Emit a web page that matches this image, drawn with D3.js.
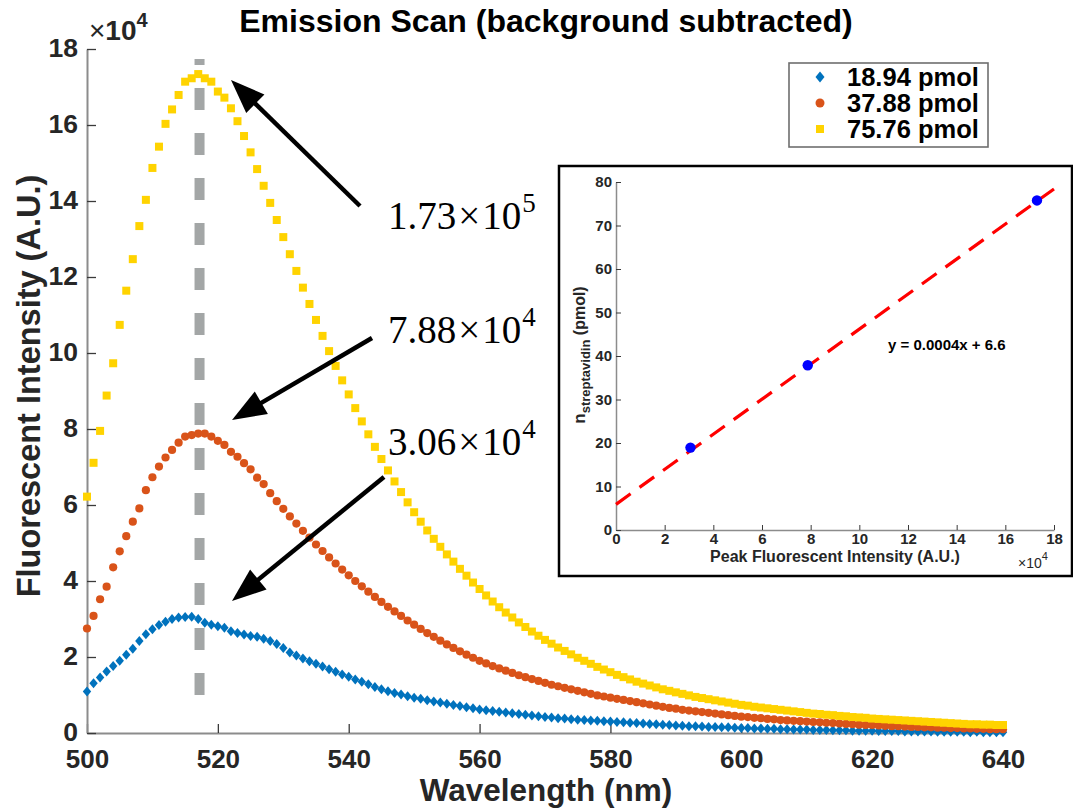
<!DOCTYPE html>
<html>
<head>
<meta charset="utf-8">
<script src="https://cdn.jsdelivr.net/npm/d3@7"></script>
<style>
  body { margin: 0; background: #fff; }
  svg { display: block; }
</style>
</head>
<body>
<div id="chart"></div>
<script>
// wavelength grid (nm), one reading per nm
var wavelengths = [500,501,502,503,504,505,506,507,508,509,510,511,512,513,514,515,516,517,518,519,
  520,521,522,523,524,525,526,527,528,529,530,531,532,533,534,535,536,537,538,539,
  540,541,542,543,544,545,546,547,548,549,550,551,552,553,554,555,556,557,558,559,
  560,561,562,563,564,565,566,567,568,569,570,571,572,573,574,575,576,577,578,579,
  580,581,582,583,584,585,586,587,588,589,590,591,592,593,594,595,596,597,598,599,
  600,601,602,603,604,605,606,607,608,609,610,611,612,613,614,615,616,617,618,619,
  620,621,622,623,624,625,626,627,628,629,630,631,632,633,634,635,636,637,638,639,640];

// fluorescent intensity, units of 1e4 A.U.
var pmol1894 = [1.09,1.31,1.46,1.62,1.76,1.90,2.06,2.22,2.42,2.60,2.73,2.84,2.93,3.00,3.04,3.05,3.06,3.00,2.90,2.85,
  2.81,2.77,2.68,2.63,2.59,2.55,2.53,2.48,2.42,2.34,2.24,2.12,2.04,1.96,1.89,1.82,1.75,1.68,1.61,1.54,
  1.48,1.41,1.35,1.28,1.21,1.15,1.10,1.05,1.01,0.97,0.93,0.90,0.86,0.83,0.80,0.77,0.74,0.71,0.68,0.65,
  0.62,0.60,0.58,0.56,0.54,0.52,0.50,0.48,0.46,0.44,0.42,0.41,0.39,0.38,0.36,0.35,0.34,0.33,0.32,0.31,
  0.30,0.29,0.28,0.27,0.26,0.25,0.24,0.23,0.22,0.21,0.20,0.19,0.18,0.18,0.17,0.16,0.16,0.15,0.15,0.14,
  0.13,0.13,0.12,0.12,0.11,0.11,0.10,0.10,0.09,0.09,0.09,0.08,0.08,0.08,0.07,0.07,0.07,0.06,0.06,0.06,
  0.06,0.05,0.05,0.05,0.05,0.04,0.04,0.04,0.04,0.04,0.03,0.03,0.03,0.03,0.03,0.02,0.03,0.02,0.02,0.02,0.02];

var pmol3788 = [2.75,3.08,3.52,3.85,4.36,4.78,5.18,5.56,5.91,6.39,6.73,7.01,7.25,7.45,7.64,7.80,7.84,7.88,7.88,7.80,
  7.69,7.58,7.40,7.27,7.10,6.94,6.72,6.55,6.31,6.10,5.90,5.70,5.51,5.32,5.14,4.96,4.79,4.62,4.46,4.30,
  4.15,4.00,3.86,3.72,3.58,3.45,3.32,3.20,3.08,2.96,2.85,2.74,2.63,2.53,2.43,2.33,2.24,2.15,2.06,1.98,
  1.90,1.83,1.76,1.70,1.64,1.58,1.52,1.47,1.42,1.37,1.32,1.27,1.23,1.19,1.15,1.11,1.07,1.03,0.99,0.96,
  0.93,0.90,0.87,0.84,0.81,0.78,0.75,0.72,0.69,0.66,0.64,0.61,0.59,0.57,0.55,0.53,0.51,0.49,0.47,0.45,
  0.43,0.42,0.40,0.39,0.37,0.36,0.34,0.33,0.32,0.31,0.30,0.29,0.28,0.27,0.26,0.25,0.24,0.23,0.22,0.21,
  0.21,0.20,0.19,0.18,0.18,0.17,0.16,0.16,0.15,0.15,0.14,0.14,0.13,0.13,0.12,0.12,0.11,0.11,0.10,0.10,0.10];

var pmol7576 = [6.22,7.11,7.95,8.88,9.73,10.74,11.64,12.47,13.34,14.03,14.87,15.43,16.03,16.41,16.79,17.14,17.23,17.34,17.23,17.14,
  16.88,16.72,16.44,16.10,15.71,15.28,14.84,14.40,13.95,13.50,13.05,12.60,12.16,11.72,11.29,10.87,10.45,10.05,9.66,9.28,
  8.91,8.55,8.20,7.86,7.53,7.21,6.91,6.62,6.34,6.07,5.81,5.56,5.33,5.11,4.90,4.70,4.51,4.32,4.14,3.96,
  3.79,3.62,3.46,3.31,3.17,3.04,2.91,2.79,2.67,2.56,2.45,2.35,2.25,2.16,2.07,1.98,1.90,1.82,1.74,1.67,
  1.60,1.53,1.47,1.41,1.35,1.30,1.25,1.20,1.15,1.11,1.07,1.03,0.99,0.95,0.92,0.89,0.86,0.83,0.80,0.77,
  0.74,0.72,0.69,0.67,0.65,0.63,0.61,0.59,0.57,0.55,0.53,0.51,0.50,0.48,0.47,0.45,0.44,0.42,0.41,0.40,
  0.38,0.37,0.36,0.35,0.34,0.33,0.32,0.31,0.30,0.29,0.28,0.27,0.26,0.25,0.24,0.23,0.23,0.22,0.22,0.21,0.21];

var seriesNames = ["18.94 pmol", "37.88 pmol", "75.76 pmol"];
var seriesColors = ["#0072bd", "#d95319", "#ffd300"];
var xTicks = [500, 520, 540, 560, 580, 600, 620, 640];
var yTicks = [0, 2, 4, 6, 8, 10, 12, 14, 16, 18];

// peak marker line (nm, from/to in 1e4)
var peakNm = 517.2, peakFrom = 1.0, peakTo = 17.74;

// annotations
var peakLabels = ["1.73", "7.88", "3.06"];
var peakExps = ["5", "4", "4"];

// inset: peak intensity (1e4) vs amount (pmol)
var peakIntensity = [3.06, 7.88, 17.3];
var amountPmol = [18.94, 37.88, 75.76];
var fitStart = 5.9, fitEnd = 78.4;   // fitted line read at x = 0 and x = 18
var insetXTicks = [0, 2, 4, 6, 8, 10, 12, 14, 16, 18];
var insetYTicks = [0, 10, 20, 30, 40, 50, 60, 70, 80];

var W = 1073, H = 809;
var font = "'Liberation Sans', Arial, Helvetica, sans-serif";
var serif = "'Liberation Serif', 'Times New Roman', serif";

var svg = d3.select("#chart").append("svg")
  .attr("width", W).attr("height", H)
  .style("background", "#fff");

var x = d3.scaleLinear().domain([500, 640]).range([87, 1003]);
var y = d3.scaleLinear().domain([0, 18]).range([733, 49]);

// axes
function styleAxis(g, size) {
  g.attr("font-family", font).attr("font-size", size).attr("font-weight", "bold");
  g.select(".domain").attr("stroke", "#8c8c8c").attr("stroke-width", 2);
  g.selectAll(".tick line").attr("stroke", "#3a3a3a").attr("stroke-width", 1.3);
  g.selectAll(".tick text").attr("fill", "#262626");
}

svg.append("g")
  .attr("transform", "translate(0,733)")
  .call(d3.axisBottom(x).tickValues(xTicks).tickSize(-9).tickSizeOuter(0).tickPadding(17))
  .call(styleAxis, 26);

svg.append("g")
  .attr("transform", "translate(87,0)")
  .call(d3.axisLeft(y).tickValues(yTicks).tickSize(-9).tickSizeOuter(0).tickPadding(9))
  .call(styleAxis, 26.5)
  .selectAll(".tick text").attr("dy", "0.28em");

// x10^4 multiplier
var mult = svg.append("text").attr("x", 89).attr("y", 40)
  .attr("font-family", font).attr("font-size", 28).attr("fill", "#262626");
mult.append("tspan").text("\u00d7");
mult.append("tspan").attr("font-weight", "bold").text("10");
mult.append("tspan").attr("font-weight", "bold").attr("font-size", 20).attr("dy", -13).text("4");

// title and axis labels
svg.append("text").attr("x", 546).attr("y", 32).attr("text-anchor", "middle")
  .attr("font-family", font).attr("font-size", 32).attr("font-weight", "bold").attr("fill", "#000")
  .text("Emission Scan (background subtracted)");

svg.append("text").attr("x", 546).attr("y", 801).attr("text-anchor", "middle")
  .attr("font-family", font).attr("font-size", 31.5).attr("font-weight", "bold").attr("fill", "#262626")
  .text("Wavelength (nm)");

svg.append("text").attr("transform", "translate(40,386) rotate(-90)").attr("text-anchor", "middle")
  .attr("font-family", font).attr("font-size", 32.5).attr("font-weight", "bold").attr("fill", "#262626")
  .text("Fluorescent Intensity (A.U.)");

// grey dashed peak line
svg.append("line")
  .attr("x1", x(peakNm)).attr("x2", x(peakNm))
  .attr("y1", y(peakFrom)).attr("y2", y(peakTo))
  .attr("stroke", "#a3a6a6").attr("stroke-width", 10)
  .attr("stroke-dasharray", "22,23");

// markers
var diamond = "M0,-5L4.2,0L0,5L-4.2,0Z";

svg.append("g").selectAll("path")
  .data(wavelengths).enter().append("path")
  .attr("d", diamond)
  .attr("transform", function(d, i) { return "translate(" + x(d) + "," + y(pmol1894[i]) + ")"; })
  .attr("fill", seriesColors[0]);

svg.append("g").selectAll("circle")
  .data(wavelengths).enter().append("circle")
  .attr("cx", function(d) { return x(d); })
  .attr("cy", function(d, i) { return y(pmol3788[i]); })
  .attr("r", 4.1)
  .attr("fill", seriesColors[1]);

svg.append("g").selectAll("rect")
  .data(wavelengths).enter().append("rect")
  .attr("x", function(d) { return x(d) - 4; })
  .attr("y", function(d, i) { return y(pmol7576[i]) - 4; })
  .attr("width", 8).attr("height", 8)
  .attr("fill", seriesColors[2]);

// legend
var lg = svg.append("g");
lg.append("rect").attr("x", 789).attr("y", 63).attr("width", 199).attr("height", 84)
  .attr("fill", "#fff").attr("stroke", "#6e6e6e").attr("stroke-width", 1.6);
seriesNames.forEach(function(name, i) {
  var cy = 77 + i * 26;
  if (i === 0) lg.append("path").attr("d", "M0,-5.5L4.5,0L0,5.5L-4.5,0Z").attr("transform", "translate(820," + cy + ")").attr("fill", seriesColors[0]);
  if (i === 1) lg.append("circle").attr("cx", 820).attr("cy", cy).attr("r", 4.5).attr("fill", seriesColors[1]);
  if (i === 2) lg.append("rect").attr("x", 816).attr("y", cy - 4).attr("width", 8).attr("height", 8).attr("fill", seriesColors[2]);
  lg.append("text").attr("x", 847).attr("y", cy + 9)
    .attr("font-family", font).attr("font-size", 25.5).attr("font-weight", "bold").attr("fill", "#000")
    .text(name);
});

// arrows and peak annotations
var arrowFrom = [[360, 206], [372, 338], [384, 477]];
var arrowTo = [[231, 80], [232, 420], [232, 601]];
var labelPos = [[388, 229], [388, 343], [388, 455]];

arrowFrom.forEach(function(a, i) {
  var b = arrowTo[i];
  var dx = b[0] - a[0], dy = b[1] - a[1], len = Math.sqrt(dx * dx + dy * dy);
  var ux = dx / len, uy = dy / len, hl = 34, hw = 13;
  var bx = b[0] - ux * hl, by = b[1] - uy * hl;
  svg.append("line").attr("x1", a[0]).attr("y1", a[1]).attr("x2", bx + ux * 4).attr("y2", by + uy * 4)
    .attr("stroke", "#000").attr("stroke-width", 4.5);
  svg.append("path")
    .attr("d", "M" + b[0] + "," + b[1] +
      "L" + (bx - uy * hw) + "," + (by + ux * hw) +
      "L" + (bx + uy * hw) + "," + (by - ux * hw) + "Z")
    .attr("fill", "#000");
  var t = svg.append("text").attr("x", labelPos[i][0]).attr("y", labelPos[i][1])
    .attr("font-family", serif).attr("font-size", 39).attr("fill", "#000");
  t.append("tspan").text(peakLabels[i]);
  t.append("tspan").attr("dx", 2).text("\u00d7");
  t.append("tspan").attr("dx", 2).text("10");
  t.append("tspan").attr("font-size", 27).attr("dy", -17).attr("dx", 1).text(peakExps[i]);
});

// inset
var ins = svg.append("g");
ins.append("rect").attr("x", 559).attr("y", 166).attr("width", 513).attr("height", 410)
  .attr("fill", "#fff").attr("stroke", "#000").attr("stroke-width", 2.5);

var ix = d3.scaleLinear().domain([0, 18]).range([616, 1054]);
var iy = d3.scaleLinear().domain([0, 80]).range([530, 182]);

function styleInset(g) {
  g.attr("font-family", font).attr("font-size", 15).attr("font-weight", "bold");
  g.select(".domain").attr("stroke", "#8c8c8c").attr("stroke-width", 1.5);
  g.selectAll(".tick line").attr("stroke", "#3a3a3a").attr("stroke-width", 1);
  g.selectAll(".tick text").attr("fill", "#262626");
}

ins.append("g").attr("transform", "translate(0,530)")
  .call(d3.axisBottom(ix).tickValues(insetXTicks).tickSize(-5).tickSizeOuter(0).tickPadding(3))
  .call(styleInset);
ins.append("g").attr("transform", "translate(616,0)")
  .call(d3.axisLeft(iy).tickValues(insetYTicks).tickSize(-5).tickSizeOuter(0).tickPadding(4))
  .call(styleInset);

ins.append("line")
  .attr("x1", ix(0)).attr("y1", iy(fitStart))
  .attr("x2", ix(18)).attr("y2", iy(fitEnd))
  .attr("stroke", "#ff0000").attr("stroke-width", 3.2).attr("stroke-dasharray", "18,11");

ins.append("g").selectAll("circle")
  .data(peakIntensity).enter().append("circle")
  .attr("cx", function(d) { return ix(d); })
  .attr("cy", function(d, i) { return iy(amountPmol[i]); })
  .attr("r", 5.2).attr("fill", "#0000ff");

ins.append("text").attr("x", 888).attr("y", 350)
  .attr("font-family", font).attr("font-size", 15).attr("font-weight", "bold").attr("fill", "#000")
  .text("y = 0.0004x + 6.6");

ins.append("text").attr("x", 835).attr("y", 562).attr("text-anchor", "middle")
  .attr("font-family", font).attr("font-size", 16).attr("font-weight", "bold").attr("fill", "#262626")
  .text("Peak Fluorescent Intensity (A.U.)");

var im = ins.append("text").attr("x", 1018).attr("y", 568)
  .attr("font-family", font).attr("font-size", 14).attr("fill", "#262626");
im.append("tspan").text("\u00d710");
im.append("tspan").attr("font-size", 11).attr("dy", -8).text("4");

var yl = ins.append("text").attr("transform", "translate(585,355) rotate(-90)").attr("text-anchor", "middle")
  .attr("font-family", font).attr("font-weight", "bold").attr("fill", "#262626");
yl.append("tspan").attr("font-size", 17).text("n");
yl.append("tspan").attr("font-size", 13).attr("dy", 5).text("streptavidin");
yl.append("tspan").attr("font-size", 16).attr("dy", -5).text(" (pmol)");
</script>
</body>
</html>
